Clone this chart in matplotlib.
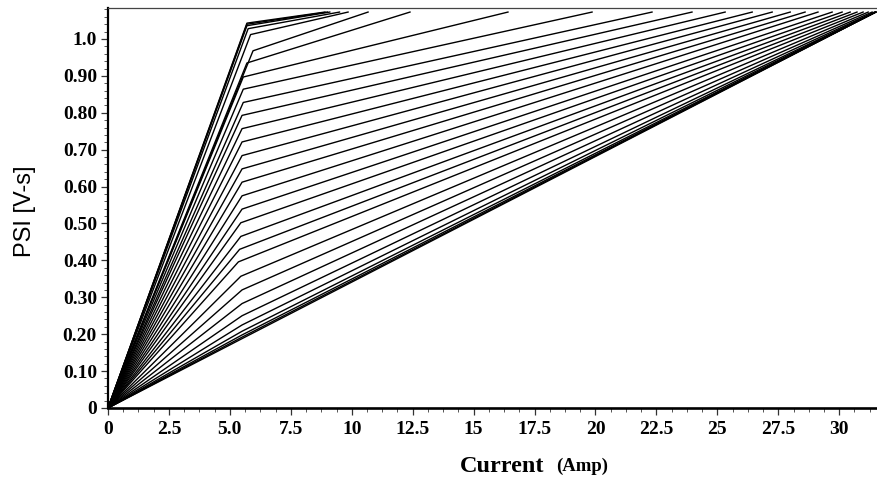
import numpy as np
import matplotlib
matplotlib.use('Agg')
import matplotlib.pyplot as plt
from matplotlib.ticker import AutoMinorLocator

# flux linkage curves, one per rotor position (aligned -> unaligned)
# each curve: origin -> knee -> point where it reaches psi_top
knee_current = [5.70, 5.70, 5.70, 5.75, 5.85, 5.95, 5.70, 5.55, 5.55, 5.55,
                5.50, 5.50, 5.50, 5.50, 5.50, 5.50, 5.50, 5.50, 5.45, 5.45,
                5.40, 5.35, 5.45, 5.50, 5.50, 5.50, 5.50, 5.50, 5.50, 5.50, 5.50]
knee_psi = [1.043, 1.040, 1.036, 1.028, 1.012, 0.968, 0.935, 0.897, 0.864, 0.828,
            0.793, 0.757, 0.721, 0.684, 0.648, 0.612, 0.575, 0.539, 0.502, 0.465,
            0.430, 0.396, 0.357, 0.320, 0.283, 0.250, 0.225, 0.208, 0.198, 0.192, 0.188]
end_current = [8.9, 9.0, 9.1, 9.5, 9.85, 10.67, 12.39, 16.41, 19.86, 22.32,
               23.96, 25.32, 26.43, 27.25, 27.99, 28.60, 29.13, 29.71, 30.12, 30.45,
               30.73, 30.98, 31.19, 31.35, 31.45, 31.50, 31.50, 31.50, 31.50, 31.50, 31.50]
psi_top = 1.073

x_ticks = [0, 2.5, 5, 7.5, 10, 12.5, 15, 17.5, 20, 22.5, 25, 27.5, 30]
x_labels = ['0', '2.5', '5.0', '7.5', '10', '12.5', '15', '17.5', '20', '22.5', '25', '27.5', '30']
y_ticks = [0, 0.1, 0.2, 0.3, 0.4, 0.5, 0.6, 0.7, 0.8, 0.9, 1.0]
y_labels = ['0', '0.10', '0.20', '0.30', '0.40', '0.50', '0.60', '0.70', '0.80', '0.90', '1.0']

fig = plt.figure(figsize=(8.77, 4.8), dpi=100)
ax = fig.add_axes([108/877, 1 - 408/480, 1 - 108/877, 400/480])

for ik, pk, ie in zip(knee_current, knee_psi, end_current):
    ax.plot([0, ik, ie], [0, pk, psi_top], color='black', lw=1.0, solid_joinstyle='round')

ax.set_xlim(0, 31.55)
ax.set_ylim(0, 1.084)

ax.spines['right'].set_visible(False)
ax.spines['left'].set_linewidth(1.6)
ax.spines['bottom'].set_linewidth(1.9)
ax.spines['top'].set_linewidth(0.9)
ax.spines['top'].set_color('#444444')

serif_bold = {'family': 'Liberation Serif', 'weight': 'bold'}
ax.set_xticks(x_ticks)
ax.set_xticklabels(x_labels, fontdict=dict(serif_bold, size=14))
ax.set_yticks(y_ticks)
ax.set_yticklabels(y_labels, fontdict=dict(serif_bold, size=14))
ax.xaxis.set_minor_locator(AutoMinorLocator(4))
ax.yaxis.set_minor_locator(AutoMinorLocator(5))
ax.tick_params(which='major', direction='out', length=5, width=0.9, color='#333333', pad=3)
ax.tick_params(which='minor', direction='out', length=3, width=0.7, color='#555555')
ax.tick_params(axis='x', which='major', pad=4)

fig.text(25/877, 1 - 211/480, 'PSI [V-s]', rotation=90, ha='center', va='center',
         family='Liberation Sans', fontsize=17)
fig.text(502/877, 1 - 467/480, 'Current', ha='center', va='center',
         family='Liberation Serif', weight='bold', fontsize=17.5)
fig.text(582/877, 1 - 466/480, '(Amp)', ha='center', va='center',
         family='Liberation Serif', weight='bold', fontsize=13.5)

fig.savefig('out.png', dpi=100)
